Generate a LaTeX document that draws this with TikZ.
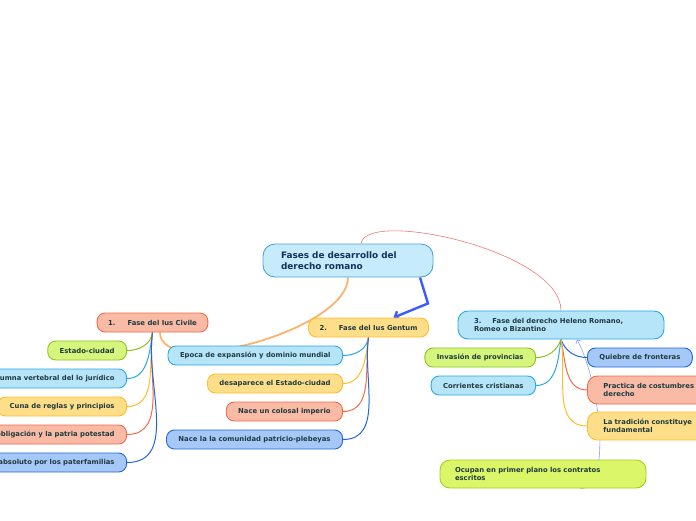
\documentclass[tikz,border=0pt]{standalone}
\usepackage{fontspec}
\setmainfont{DejaVu Sans}
\usetikzlibrary{backgrounds,arrows.meta}
\definecolor{ink}{HTML}{1F3A3D}
\definecolor{navy}{HTML}{16305A}
\definecolor{topF}{HTML}{C5EBFD}\definecolor{topD}{HTML}{4FA3D9}
\definecolor{lbF}{HTML}{B6E5FA}\definecolor{lbD}{HTML}{2AA8E2}
\definecolor{slF}{HTML}{F9BBA6}\definecolor{slD}{HTML}{F06B4A}
\definecolor{ylF}{HTML}{FFDE8A}\definecolor{ylD}{HTML}{FDBD2C}
\definecolor{grF}{HTML}{D5F57C}\definecolor{grD}{HTML}{8DC21F}
\definecolor{bbF}{HTML}{A5C8F8}\definecolor{bbD}{HTML}{2565D8}
\definecolor{peach}{HTML}{FBB36E}
\definecolor{rose}{HTML}{F07878}
\definecolor{vivid}{HTML}{3D5CFF}
\tikzset{
  box/.style={draw, rounded corners=8pt, line width=0.9pt, text=ink,
    font=\bfseries\fontsize{6.85}{8.6}\selectfont,
    minimum height=19pt, inner xsep=12pt, inner ysep=2pt},
  twoline/.style={minimum height=28pt, align=left},
  cgr/.style={fill=grF, draw=grD}, clb/.style={fill=lbF, draw=lbD},
  cyl/.style={fill=ylF, draw=ylD}, csl/.style={fill=slF, draw=slD},
  cbb/.style={fill=bbF, draw=bbD},
  wire/.style={line width=1pt},
}
\begin{document}
\begin{tikzpicture}[x=1pt,y=-1pt]
\useasboundingbox (0,0) rectangle (696,520);
\clip (0,0) rectangle (696,520);
% main topic and the three phases
\node[box, fill=topF, draw=topD, text=navy, rounded corners=12pt, twoline,
  minimum height=33pt, text width=134pt, inner xsep=18pt,
  font=\bfseries\fontsize{8.9}{10.8}\selectfont] (ctr) at (348,260.5)
  {Fases de desarrollo del\\derecho romano};
\node[box, csl, inner xsep=11pt] (f1) at (152.5,322.5) {1.\hspace{12pt}Fase del Ius Civile};
\node[box, cyl, inner xsep=11pt] (f2) at (368.5,327.5) {2.\hspace{12pt}Fase del Ius Gentum};
\node[box, clb, twoline, rounded corners=10pt, text width=174pt, inner xsep=16pt] (f3) at (561,325)
  {3.\hspace{11pt}Fase del derecho Heleno Romano,\\Romeo o Bizantino};
% children
\foreach \n/\y/\c/\t in {1/350.5/cgr/Estado-ciudad,
    2/378.5/clb/Columna vertebral del lo jurídico,
    3/406.5/cyl/Cuna de reglas y principios,
    4/434.5/csl/obligación y la patria potestad,
    5/462.5/cbb/absoluto por los paterfamilias}
  \node[box, \c, anchor=east] (k1\n) at (127,\y) {\t};
\foreach \n/\y/\c/\t in {1/355.5/clb/Epoca de expansión y dominio mundial,
    2/383.5/cyl/desaparece el Estado-ciudad,
    3/411.5/csl/Nace un colosal imperio,
    4/439.5/cbb/Nace la la comunidad patricio-plebeyas}
  \node[box, \c, anchor=east] (k2\n) at (343,\y) {\t};
\node[box, cgr, anchor=east] (k31) at (536,357.5) {Invasión de provincias};
\node[box, clb, anchor=east] (k32) at (536,385.5) {Corrientes cristianas};
\node[box, cbb, anchor=west] (k33) at (587,357.5) {Quiebre de fronteras};
\node[box, csl, anchor=west, twoline, rounded corners=10pt, text width=140pt, inner xsep=16pt] (k34) at (587,390)
  {Practica de costumbres\\derecho};
\node[box, cyl, anchor=west, twoline, rounded corners=10pt, text width=140pt, inner xsep=16pt] (k35) at (587,426)
  {La tradición constituye\\fundamental};
\node[box, cgr, fill=grF!85!yellow, draw=grD!80!yellow, twoline, rounded corners=10pt,
  text width=176pt, inner xsep=15pt] (ocu) at (543,474)
  {Ocupan en primer plano los contratos\\escritos};
% connectors
\begin{scope}[on background layer]
\draw[line width=1.8pt, color=peach] (ctr.south)
  .. controls +(0,53) and +(0,48) .. ([xshift=7.5pt]f1.south);
\draw[line width=0.6pt, color=rose] ([xshift=13pt]ctr.north)
  .. controls +(5,-35) and +(0,-60) .. (f3.north);
\draw[line width=2.4pt, color=vivid, -{Straight Barb[length=4pt,width=9pt]}]
  ([xshift=72pt]ctr.south) -- ++(8,26) -- ([xshift=25pt]f2.north);
\draw[line width=0.6pt, color=vivid!60!white, -{Straight Barb[length=3pt,width=6pt]}]
  ([xshift=37pt]ocu.south) .. controls +(32,2) and +(24,45) .. ([xshift=16pt]f3.south);
\foreach \n/\c in {1/grD,2/lbD,3/ylD,4/slD,5/bbD}
  \draw[wire, color=\c] (f1.south) to[out=262,in=0] (k1\n.east);
\foreach \n/\c in {1/lbD,2/ylD,3/slD,4/bbD}
  \draw[wire, color=\c] (f2.south) to[out=262,in=0] (k2\n.east);
\draw[wire, color=grD] (f3.south) to[out=250,in=0] (k31.east);
\draw[wire, color=lbD] (f3.south) to[out=262,in=0] (k32.east);
\draw[wire, color=bbD] (f3.south) to[out=290,in=180] (k33.west);
\draw[wire, color=slD] (f3.south) to[out=282,in=180] (k34.west);
\draw[wire, color=ylD] (f3.south) to[out=280,in=180] (k35.west);
\end{scope}
\end{tikzpicture}
\end{document}
